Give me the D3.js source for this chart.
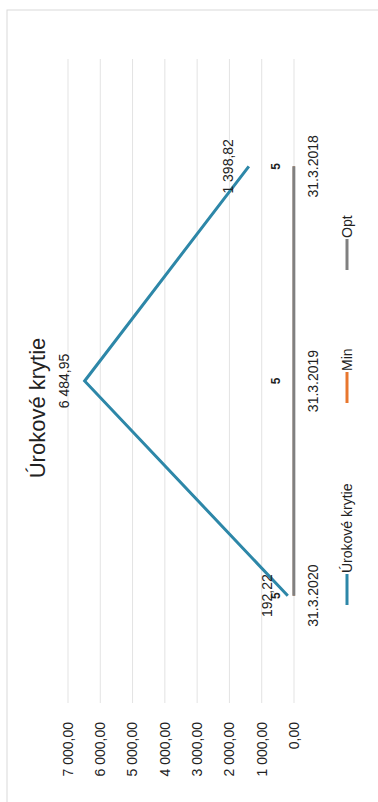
<!DOCTYPE html>
<html><head><meta charset="utf-8">
<script src="https://cdn.jsdelivr.net/npm/d3@7"></script>
<style>html,body{margin:0;padding:0;background:#fff;}svg{display:block;}</style>
</head><body>
<script>
const categories = ["31.3.2020", "31.3.2019", "31.3.2018"];
const krytie = [192.22, 6484.95, 1398.82];
const minVals = [5, 5, 5];
const optVals = [5, 5, 5];
const yTicks = [0, 1000, 2000, 3000, 4000, 5000, 6000, 7000];
const seriesNames = ["Úrokové krytie", "Min", "Opt"];

const W = 378, H = 802;
const font = "'Liberation Sans', Arial, sans-serif";
const svg = d3.select("body").append("svg").attr("width", W).attr("height", H);

// frame
svg.append("rect").attr("x", 7).attr("y", 10).attr("width", 380).attr("height", 800)
  .attr("fill", "none").attr("stroke", "#d9d9d9").attr("stroke-width", 1);

// chart drawn in original (landscape) orientation, then rotated -90deg
const g = svg.append("g").attr("transform", `translate(0,${H}) rotate(-90)`);

const x = d3.scaleBand().domain(categories).range([99, 743]);
const y = d3.scaleLinear().domain([0, 7000]).range([294, 68]);
const cx = c => x(c) + x.bandwidth() / 2;

// gridlines
g.append("g").selectAll("line").data(yTicks).join("line")
  .attr("x1", 99).attr("x2", 743)
  .attr("y1", d => y(d)).attr("y2", d => y(d))
  .attr("stroke", "#e3e3e3").attr("stroke-width", 1);

// value axis labels
const fmt = v => d3.format(",.2f")(v).replace(/,/g, " ").replace(".", ",");
g.append("g").selectAll("text").data(yTicks).join("text")
  .attr("x", 80).attr("y", d => y(d)).attr("dy", "0.35em")
  .attr("text-anchor", "end").attr("font-family", font).attr("font-size", 14)
  .attr("fill", "#222").text(d => fmt(d));

// category labels
g.append("g").selectAll("text").data(categories).join("text")
  .attr("x", d => cx(d)).attr("y", 318)
  .attr("text-anchor", "middle").attr("font-family", font).attr("font-size", 14)
  .attr("fill", "#222").text(d => d);

// title
g.append("text").attr("x", 394).attr("y", 45).attr("text-anchor", "middle")
  .attr("font-family", font).attr("font-size", 22).attr("fill", "#222").text("Úrokové krytie");

const line = d3.line().x((d, i) => cx(categories[i])).y(d => y(d));
const colors = ["#2d87a8", "#e8772e", "#808080"];

g.append("path").datum(minVals).attr("d", line).attr("fill", "none")
  .attr("stroke", colors[1]).attr("stroke-width", 2);
g.append("path").datum(optVals).attr("d", line).attr("fill", "none")
  .attr("stroke", colors[2]).attr("stroke-width", 3);
g.append("path").datum(krytie).attr("d", line).attr("fill", "none")
  .attr("stroke", colors[0]).attr("stroke-width", 3).attr("stroke-linejoin", "miter");

// data labels
g.append("g").selectAll("text").data(krytie).join("text")
  .attr("x", (d, i) => cx(categories[i])).attr("y", d => y(d) - 16)
  .attr("text-anchor", "middle").attr("font-family", font).attr("font-size", 14)
  .attr("fill", "#222").text(d => fmt(d));
g.append("g").selectAll("text").data(optVals).join("text")
  .attr("x", (d, i) => cx(categories[i])).attr("y", d => y(d) - 14)
  .attr("text-anchor", "middle").attr("font-family", font).attr("font-size", 12)
  .attr("font-weight", "bold").attr("fill", "#222").text(d => d);

// legend
const legX = [197, 399, 532];
const lg = g.append("g").selectAll("g").data(seriesNames).join("g")
  .attr("transform", (d, i) => `translate(${legX[i]},347)`);
lg.append("line").attr("x1", 0).attr("x2", 31).attr("y1", 0).attr("y2", 0)
  .attr("stroke", (d, i) => colors[i]).attr("stroke-width", 3);
lg.append("text").attr("x", 32).attr("y", 0).attr("dy", "0.35em")
  .attr("font-family", font).attr("font-size", 14).attr("fill", "#222").text(d => d);
</script>
</body></html>
